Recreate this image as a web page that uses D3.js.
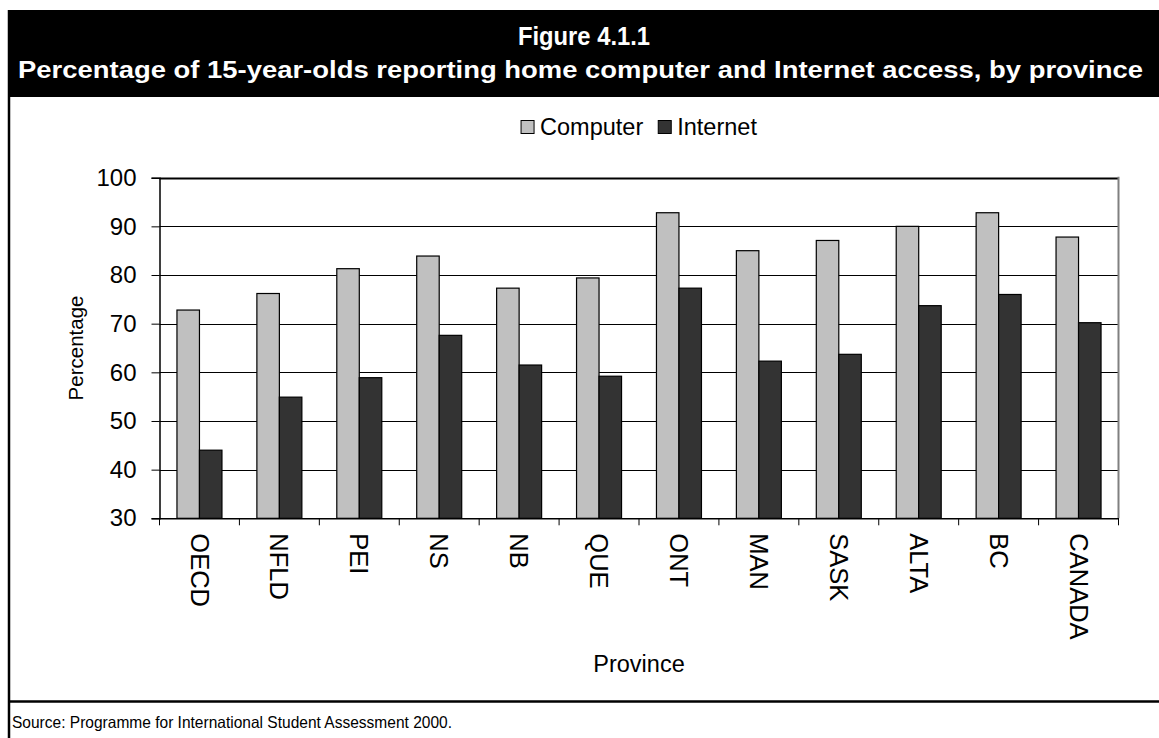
<!DOCTYPE html>
<html>
<head>
<meta charset="utf-8">
<script src="https://cdn.jsdelivr.net/npm/d3@7"></script>
<style>
  html, body { margin: 0; padding: 0; background: #fff; }
  svg { display: block; font-family: Arial, "Liberation Sans", sans-serif; }
</style>
</head>
<body>
<svg id="chart" width="1159" height="738"></svg>
<script>
// Provinces (plus OECD average and Canada overall)
const categories = ["OECD", "NFLD", "PEI", "NS", "NB", "QUE", "ONT", "MAN", "SASK", "ALTA", "BC", "CANADA"];
const seriesNames = ["Computer", "Internet"];
const computerValues = [72.8, 76.2, 81.3, 83.9, 77.3, 79.4, 92.8, 85.0, 87.1, 90.0, 92.8, 87.8];
const internetValues = [44.0, 54.9, 58.9, 67.6, 61.5, 59.2, 77.3, 62.3, 63.7, 73.7, 76.0, 70.2];
const yTicks = [30, 40, 50, 60, 70, 80, 90, 100];

const titleText = "Figure 4.1.1";
const subtitleText = "Percentage of 15-year-olds reporting home computer and Internet access, by province";
const yAxisTitle = "Percentage";
const xAxisTitle = "Province";
const sourceText = "Source: Programme for International Student Assessment 2000.";

const colors = { Computer: "#c0c0c0", Internet: "#333333" };

const svg = d3.select("#chart");
const W = 1159, H = 738;

// Helper: set text to a fixed rendered width
function fitWidth(sel, w) {
  return sel.attr("textLength", w).attr("lengthAdjust", "spacingAndGlyphs");
}

// Frame and header band
svg.append("rect").attr("x", 9).attr("y", 10).attr("width", W - 9).attr("height", 87).attr("fill", "#000");
svg.append("line").attr("x1", 9).attr("x2", 9).attr("y1", 10).attr("y2", H).attr("stroke", "#000").attr("stroke-width", 2.5);
svg.append("line").attr("x1", 9).attr("x2", W).attr("y1", 701.5).attr("y2", 701.5).attr("stroke", "#000").attr("stroke-width", 2.5);

fitWidth(svg.append("text").attr("x", 584).attr("y", 45).attr("text-anchor", "middle")
  .attr("fill", "#fff").attr("font-weight", "bold").attr("font-size", 25).text(titleText), 132);
fitWidth(svg.append("text").attr("x", 580.5).attr("y", 78).attr("text-anchor", "middle")
  .attr("fill", "#fff").attr("font-weight", "bold").attr("font-size", 23.5).text(subtitleText), 1125);

// Plot area
const plot = { left: 159.5, right: 1118.5, top: 177.7, bottom: 518.3 };

const x = d3.scaleBand().domain(categories).range([plot.left, plot.right]).paddingInner(0).paddingOuter(0);
const y = d3.scaleLinear().domain([30, 100]).range([plot.bottom, plot.top]);

const groupWidth = x.bandwidth() * 0.563;
const x1 = d3.scaleBand().domain(seriesNames).range([0, groupWidth]);

// Horizontal gridlines
svg.append("g").selectAll("line").data(yTicks.filter(t => t > 30)).join("line")
  .attr("x1", plot.left).attr("x2", plot.right)
  .attr("y1", d => Math.round(y(d)) + 0.5).attr("y2", d => Math.round(y(d)) + 0.5)
  .attr("stroke", "#000").attr("stroke-width", d => d === 100 ? 2 : 1);

// Right border of the plot
svg.append("line").attr("x1", plot.right).attr("x2", plot.right)
  .attr("y1", plot.top - 1).attr("y2", plot.bottom)
  .attr("stroke", "#808080").attr("stroke-width", 2);

// Bars
const rows = categories.map((c, i) => ({ cat: c, Computer: computerValues[i], Internet: internetValues[i] }));
const groups = svg.append("g").selectAll("g").data(rows).join("g")
  .attr("transform", d => `translate(${x(d.cat) + (x.bandwidth() - groupWidth) / 2},0)`);
groups.selectAll("rect").data(d => seriesNames.map(k => ({ key: k, value: d[k] }))).join("rect")
  .attr("x", d => x1(d.key))
  .attr("y", d => y(d.value))
  .attr("width", x1.bandwidth())
  .attr("height", d => y(30) - y(d.value))
  .attr("fill", d => colors[d.key])
  .attr("stroke", "#000").attr("stroke-width", 1.2);

// Y axis
const yAxis = d3.axisLeft(y).tickValues(yTicks).tickSize(8).tickPadding(15);
const gy = svg.append("g").attr("transform", `translate(${plot.left},0)`).call(yAxis);
gy.select(".domain").attr("stroke", "#000").attr("stroke-width", 1.5);
gy.selectAll(".tick line").attr("stroke", "#000");
gy.selectAll(".tick text")
  .attr("font-size", 24).attr("fill", "#000").attr("font-family", "Arial, 'Liberation Sans', sans-serif");

// X axis with category separators as ticks
const xAxis = d3.axisBottom(x).tickSize(0).tickFormat("");
const gx = svg.append("g").attr("transform", `translate(0,${plot.bottom})`).call(xAxis);
gx.select(".domain").attr("stroke", "#000").attr("stroke-width", 1.5);
svg.append("g").selectAll("line").data(d3.range(categories.length + 1)).join("line")
  .attr("x1", i => plot.left + i * x.step()).attr("x2", i => plot.left + i * x.step())
  .attr("y1", plot.bottom).attr("y2", plot.bottom + 7)
  .attr("stroke", "#000");

// Vertical category labels (read top to bottom)
svg.append("g").selectAll("text").data(categories).join("text")
  .attr("transform", d => `translate(${x(d) + x.bandwidth() / 2},${plot.bottom + 15}) rotate(90)`)
  .attr("dy", "0.35em")
  .attr("font-size", 25.5).attr("fill", "#000").text(d => d);

// Axis titles
svg.append("text").attr("transform", `translate(82.5,${(plot.top + plot.bottom) / 2}) rotate(-90)`)
  .attr("text-anchor", "middle").attr("font-size", 20.5).text(yAxisTitle);
svg.append("text").attr("x", 639).attr("y", 672)
  .attr("text-anchor", "middle").attr("font-size", 23.5).text(xAxisTitle);

// Legend, centred over the plot
const legend = svg.append("g").attr("transform", "translate(0,127)");
const items = [];
let lx = 0;
seriesNames.forEach(name => {
  const g = legend.append("g").attr("transform", `translate(${lx},0)`);
  g.append("rect").attr("x", 0).attr("y", -6.5).attr("width", 13).attr("height", 13)
    .attr("fill", colors[name]).attr("stroke", "#000").attr("stroke-width", 1);
  const t = g.append("text").attr("x", 19).attr("y", 0).attr("dy", "0.36em")
    .attr("font-size", 23.5).text(name);
  lx += 19 + t.node().getComputedTextLength() + 15;
  items.push(g);
});
const legendW = lx - 15;
legend.attr("transform", `translate(${(plot.left + plot.right) / 2 - legendW / 2},127)`);

// Source note
fitWidth(svg.append("text").attr("x", 12).attr("y", 728).attr("font-size", 16.5).text(sourceText), 440);
</script>
</body>
</html>
